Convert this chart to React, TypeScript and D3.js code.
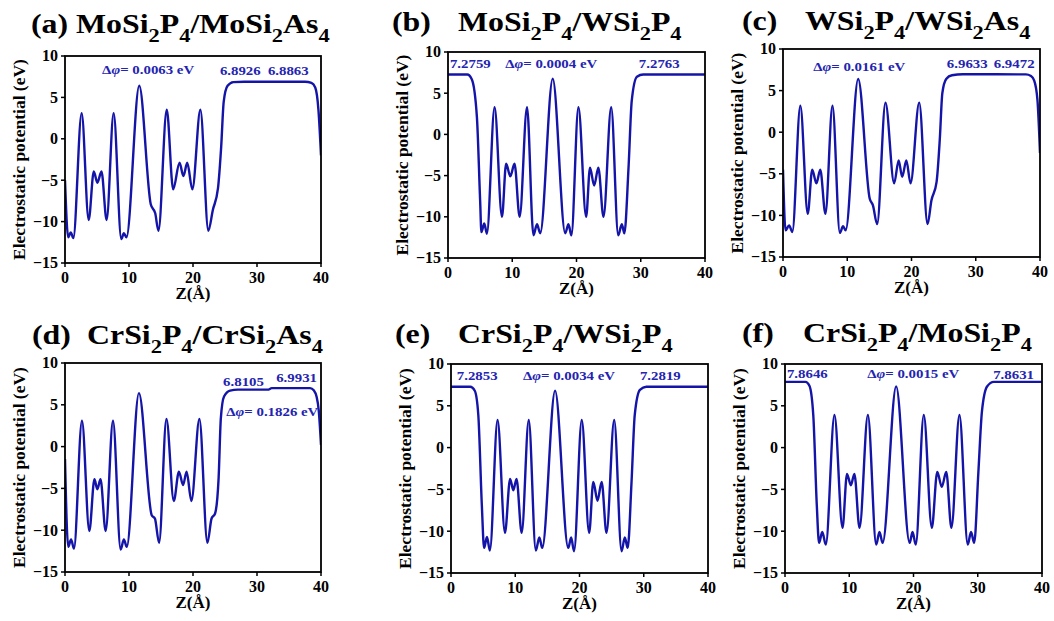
import React from "react";
import * as d3 from "d3";

// axis ticks shared by all six panels
const xTicks = [0, 10, 20, 30, 40];
const yTicks = [-15, -10, -5, 0, 5, 10];

// planar-averaged electrostatic potential, [Z (Å), V (eV)]
const potA: [number, number][] = [
  [0, -5.0], [0.5, -11.9], [0.9, -11.3], [1.3, -12.0], [2.6, 3.1], [3.7, -9.8],
  [4.5, -3.95], [5.05, -5.3], [5.7, -3.95], [6.5, -9.8], [7.6, 3.1], [8.8, -12.1],
  [9.2, -11.4], [9.6, -11.9], [11.6, 6.4], [13.4, -7.9], [14.1, -9.0], [14.6, -11.1],
  [15.9, 3.5], [16.9, -6.1], [17.9, -2.9], [18.5, -4.5], [19.1, -2.9], [19.9, -6.1],
  [21.15, 3.5], [22.4, -11.1], [23.1, -8.6], [23.9, -6.0], [24.4, -1.0], [24.8, 4.5],
  [25.4, 6.4], [26.3, 6.85], [28, 6.89], [37.5, 6.89], [38.5, 6.75], [39.1, 6.2],
  [39.6, 3.5], [40, -2.0],
];

const potB: [number, number][] = [
  [0, 7.276], [3.0, 7.27], [3.7, 6.7], [4.5, 2.1], [5.0, -8.0], [5.2, -11.85],
  [5.65, -10.8], [6.05, -12.05], [7.25, 3.3], [8.4, -10], [9.05, -3.55], [9.7, -5.1],
  [10.35, -3.55], [11.15, -10], [12.3, 3.3], [13.3, -12.25], [13.85, -10.9], [14.35, -12],
  [16.3, 6.75], [18.25, -12], [18.75, -10.9], [19.2, -12.25], [20.3, 3.3], [21.5, -10],
  [22.1, -4.05], [22.75, -6.2], [23.4, -4.05], [24.2, -10], [25.4, 3.3], [26.5, -12.25],
  [27.05, -10.9], [27.45, -12], [28.1, -4.0], [28.6, 4.1], [29.4, 7.0], [30.4, 7.27],
  [40, 7.276],
];

const potC: [number, number][] = [
  [0, -4.5], [0.4, -11.8], [0.95, -11.2], [1.45, -12], [2.7, 3.2], [3.85, -9.8],
  [4.55, -4.5], [5.2, -6.15], [5.8, -4.5], [6.6, -9.8], [7.7, 3.2], [8.85, -12.1],
  [9.35, -11.3], [9.75, -11.8], [11.7, 6.4], [13.5, -8.0], [14.0, -8.8], [14.65, -11.05],
  [15.95, 3.55], [17.3, -6.15], [18.0, -3.4], [18.55, -5.35], [19.2, -3.4], [19.85, -6.15],
  [21.2, 3.55], [22.5, -11.05], [23.1, -8.2], [23.9, -6.0], [24.4, -0.9], [24.8, 4.7],
  [25.4, 6.4], [26.3, 6.85], [28, 6.96], [37.8, 6.95], [38.6, 6.75], [39.1, 6.2],
  [39.6, 3.9], [40, -2.5],
];

const potD: [number, number][] = [
  [0, -1.5], [0.5, -12], [0.95, -11.1], [1.4, -12.2], [2.65, 3.1], [3.8, -10.1],
  [4.6, -3.9], [5.05, -5.1], [5.55, -3.9], [6.35, -10.1], [7.5, 3.1], [8.7, -12.3],
  [9.2, -11.1], [9.65, -12], [11.55, 6.4], [13.55, -8.2], [14.05, -8.6], [14.7, -11.5],
  [15.85, 3.3], [17.0, -6.5], [17.8, -3.0], [18.45, -4.6], [19.0, -3.0], [19.75, -6.5],
  [21.0, 3.3], [22.25, -11.5], [22.9, -8.6], [23.45, -8.0], [24.0, -3.8], [24.35, 3.4],
  [24.85, 6.0], [25.8, 6.7], [27, 6.81], [31.7, 6.81], [32.3, 6.99], [38.3, 6.99],
  [38.9, 6.7], [39.3, 6.0], [39.65, 4.3], [40, 0.2],
];

const potE: [number, number][] = [
  [0, 7.285], [3.0, 7.28], [3.7, 6.8], [4.25, 3.9], [4.8, -6.9], [5.15, -12],
  [5.6, -10.7], [6.05, -12.3], [7.25, 3.3], [8.4, -10.2], [9.2, -3.75], [9.7, -5.1],
  [10.2, -3.75], [11.0, -10.2], [12.1, 3.3], [13.2, -12.3], [13.75, -10.75], [14.2, -12],
  [16.2, 6.8], [18.25, -12], [18.7, -10.75], [19.15, -12.4], [20.35, 3.3], [21.5, -10.2],
  [22.15, -4.1], [22.8, -6.35], [23.45, -4.1], [24.2, -10.2], [25.4, 3.3], [26.55, -12.4],
  [27.05, -10.75], [27.5, -12], [28.1, -4.1], [28.6, 3.9], [29.4, 6.9], [30.4, 7.28],
  [40, 7.282],
];

const potF: [number, number][] = [
  [0, 7.865], [3.2, 7.86], [3.8, 7.4], [4.4, 3.9], [4.95, -6.9], [5.3, -11.4],
  [5.8, -10.1], [6.35, -11.6], [7.7, 3.9], [8.95, -9.6], [9.65, -3.15], [10.25, -4.5],
  [10.8, -3.15], [11.6, -9.6], [12.9, 3.9], [14.2, -11.6], [14.7, -10.1], [15.2, -11.4],
  [17.3, 7.3], [19.4, -11.4], [19.85, -10.1], [20.35, -11.6], [21.6, 3.9], [22.85, -9.6],
  [23.7, -2.9], [24.4, -4.7], [25.1, -2.9], [25.9, -9.6], [27.15, 3.9], [28.45, -11.6],
  [28.95, -10.1], [29.45, -11.4], [30.1, -2.9], [30.65, 4.3], [31.45, 7.3], [32.5, 7.86],
  [40, 7.863],
];

// vacuum levels (left, right) and their difference
const levelsA = ["6.8926", "6.8863"];
const levelsB = ["7.2759", "7.2763"];
const levelsC = ["6.9633", "6.9472"];
const levelsD = ["6.8105", "6.9931"];
const levelsE = ["7.2853", "7.2819"];
const levelsF = ["7.8646", "7.8631"];
const deltaPhi = ["0.0063", "0.0004", "0.0161", "0.1826", "0.0034", "0.0015"];

const titles = [
  "MoSi_2P_4/MoSi_2As_4",
  "MoSi_2P_4/WSi_2P_4",
  "WSi_2P_4/WSi_2As_4",
  "CrSi_2P_4/CrSi_2As_4",
  "CrSi_2P_4/WSi_2P_4",
  "CrSi_2P_4/MoSi_2P_4",
];

const LINE = "#1414a8";
const NOTE = "#2424b2";
const FONT = "'Liberation Serif', 'Times New Roman', serif";

type Note = [number, number]; // data coords of text start / baseline

const panels = [
  { tag: "(a)", data: potA, levels: levelsA, box: [65, 321, 56, 263], tx: [31, 76, 33],
    lv: [[24.2, 7.7], [31.7, 7.7]] as Note[], dp: [5.8, 7.85] as Note },
  { tag: "(b)", data: potB, levels: levelsB, box: [448, 705, 52, 258], tx: [392, 458, 31],
    lv: [[0.3, 8.1], [29.7, 8.1]] as Note[], dp: [8.9, 8.1] as Note },
  { tag: "(c)", data: potC, levels: levelsC, box: [783, 1040, 49, 257], tx: [742, 805, 30],
    lv: [[25.5, 7.75], [32.8, 7.75]] as Note[], dp: [4.7, 7.4] as Note },
  { tag: "(d)", data: potD, levels: levelsD, box: [65, 321, 363, 572], tx: [32, 87, 344],
    lv: [[24.7, 7.25], [33, 7.7]] as Note[], dp: [25.2, 3.65] as Note },
  { tag: "(e)", data: potE, levels: levelsE, box: [451, 708, 364, 573], tx: [395, 458, 343],
    lv: [[0.9, 8.1], [29.4, 8.1]] as Note[], dp: [11.2, 8.1] as Note },
  { tag: "(f)", data: potF, levels: levelsF, box: [785, 1042, 364, 573], tx: [742, 803, 342],
    lv: [[0.3, 8.36], [32.4, 8.2]] as Note[], dp: [12.8, 8.36] as Note },
];

function Formula({ text, x, y }: { text: string; x: number; y: number }) {
  const parts = text.split(/(_\d)/).filter((p) => p.length > 0);
  let low = false;
  return (
    <text transform={`translate(${x},${y}) scale(1.18,1)`} fontFamily={FONT}
      fontWeight="bold" fontSize={27} fill="#000">
      {parts.map((p, i) => {
        if (p.startsWith("_")) {
          const dy = low ? 0 : 8.5;
          low = true;
          return <tspan key={i} dy={dy} fontSize={19}>{p.slice(1)}</tspan>;
        }
        const dy = low ? -8.5 : 0;
        low = false;
        return <tspan key={i} dy={dy}>{p}</tspan>;
      })}
    </text>
  );
}

function Panel({ p, idx }: { p: (typeof panels)[number]; idx: number }) {
  const [x0, x1, yT, yB] = p.box;
  const x = d3.scaleLinear().domain([0, 40]).range([x0, x1]);
  const y = d3.scaleLinear().domain([-15, 10]).range([yB, yT]);
  const line = d3.line<[number, number]>()
    .x((d) => x(d[0]))
    .y((d) => y(d[1]))
    .curve(d3.curveMonotoneX);
  const clipId = `clip-${idx}`;
  const noteProps = { fontFamily: FONT, fontWeight: "bold" as const, fontSize: 13.5, fill: NOTE };
  const at = (n: Note) => `translate(${x(n[0])},${y(n[1])}) scale(1.1,1)`;

  return (
    <g>
      <text transform={`translate(${p.tx[0]},${p.tx[2]}) scale(1.18,1)`}
        fontFamily={FONT} fontWeight="bold" fontSize={27}>{p.tag}</text>
      <Formula text={titles[idx]} x={p.tx[1]} y={p.tx[2]} />

      <clipPath id={clipId}>
        <rect x={x0} y={yT} width={x1 - x0} height={yB - yT} />
      </clipPath>
      <path d={line(p.data) ?? ""} fill="none" stroke={LINE} strokeWidth={2.4}
        clipPath={`url(#${clipId})`} strokeLinejoin="round" />

      <rect x={x0} y={yT} width={x1 - x0} height={yB - yT} fill="none" stroke="#000" strokeWidth={1.8} />

      {xTicks.map((t) => (
        <g key={`x${t}`}>
          <line x1={x(t)} x2={x(t)} y1={yB} y2={yB + 4} stroke="#000" strokeWidth={1.5} />
          <text x={x(t)} y={yB + 20} textAnchor="middle" fontFamily={FONT} fontWeight="bold" fontSize={16}>{t}</text>
        </g>
      ))}
      {yTicks.map((t) => (
        <g key={`y${t}`}>
          <line x1={x0 - 4} x2={x0} y1={y(t)} y2={y(t)} stroke="#000" strokeWidth={1.5} />
          <text x={x0 - 7} y={y(t)} dy="0.34em" textAnchor="end" fontFamily={FONT} fontWeight="bold" fontSize={16}>
            {t < 0 ? `\u2212${-t}` : t}
          </text>
        </g>
      ))}

      <text x={(x0 + x1) / 2} y={yB + 36} textAnchor="middle" fontFamily={FONT} fontWeight="bold" fontSize={17}>Z(Å)</text>
      <text transform={`translate(${x0 - 40},${(yT + yB) / 2}) rotate(-90)`} textAnchor="middle"
        fontFamily={FONT} fontWeight="bold" fontSize={17.5}>Electrostatic potential (eV)</text>

      <text transform={at(p.lv[0])} {...noteProps}>{p.levels[0]}</text>
      <text transform={at(p.lv[1])} {...noteProps}>{p.levels[1]}</text>
      <text transform={at(p.dp)} {...noteProps}>
        Δ<tspan fontStyle="italic">φ</tspan>= {deltaPhi[idx]} eV
      </text>
    </g>
  );
}

export default function App() {
  return (
    <svg width={1054} height={621} style={{ position: "absolute", left: 0, top: 0, background: "#fff" }}>
      {panels.map((p, i) => (
        <Panel key={p.tag} p={p} idx={i} />
      ))}
    </svg>
  );
}
